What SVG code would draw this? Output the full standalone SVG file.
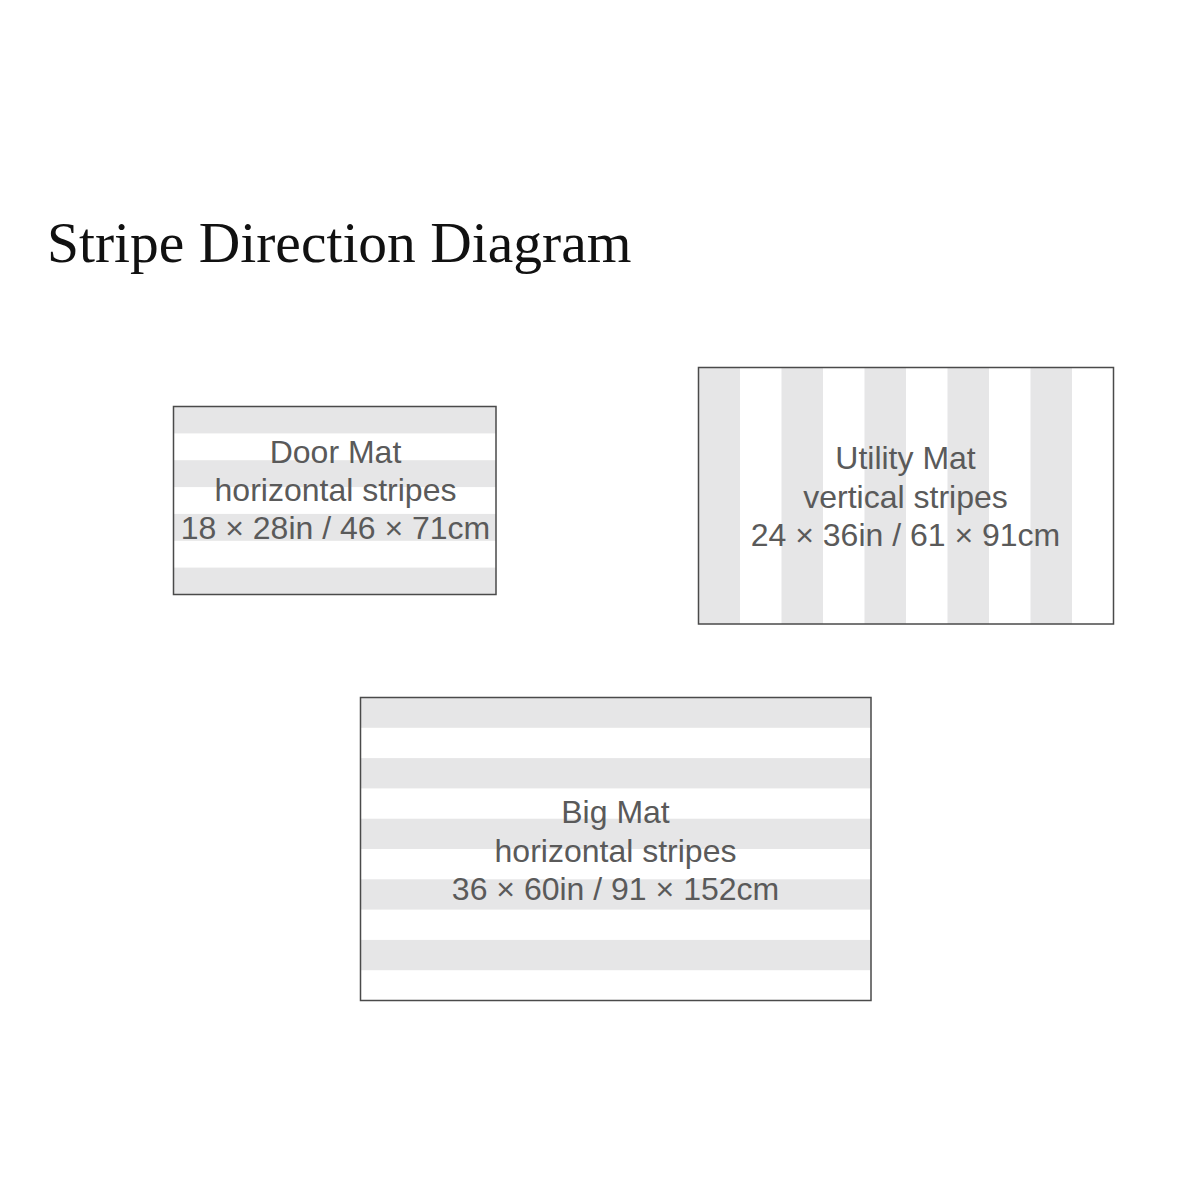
<svg xmlns="http://www.w3.org/2000/svg" width="1200" height="1200" viewBox="0 0 1200 1200">
<style>
.bg{fill:#ffffff}
.stripe{fill:#e6e6e7}
.frame{fill:none;stroke:#4a4a4a;stroke-width:1.5}
.title{font-family:"Liberation Serif","Times New Roman",serif;font-size:57.5px;fill:#111111}
.lbl{font-family:"Liberation Sans",Arial,Helvetica,sans-serif;font-size:32px;fill:#5a5a5a;text-anchor:middle}
</style>
<rect class="bg" x="0" y="0" width="1200" height="1200"/>
<text class="title" x="47" y="262">Stripe Direction Diagram</text>

<g id="door-mat">
<rect class="bg" x="173.5" y="406.5" width="322.5" height="188"/>
<rect class="stripe" x="173.5" y="406.5" width="322.5" height="26.9"/>
<rect class="stripe" x="173.5" y="460.2" width="322.5" height="26.9"/>
<rect class="stripe" x="173.5" y="513.9" width="322.5" height="26.9"/>
<rect class="stripe" x="173.5" y="567.6" width="322.5" height="26.9"/>
<rect class="frame" x="173.5" y="406.5" width="322.5" height="188"/>
<text class="lbl" x="335.5" y="463">Door Mat</text>
<text class="lbl" x="335.5" y="501">horizontal stripes</text>
<text class="lbl" x="335.5" y="539">18 × 28in / 46 × 71cm</text>
</g>

<g id="utility-mat">
<rect class="bg" x="698.5" y="367.5" width="415" height="256.5"/>
<rect class="stripe" x="698.5" y="367.5" width="41.5" height="256.5"/>
<rect class="stripe" x="781.5" y="367.5" width="41.5" height="256.5"/>
<rect class="stripe" x="864.5" y="367.5" width="41.5" height="256.5"/>
<rect class="stripe" x="947.5" y="367.5" width="41.5" height="256.5"/>
<rect class="stripe" x="1030.5" y="367.5" width="41.5" height="256.5"/>
<rect class="frame" x="698.5" y="367.5" width="415" height="256.5"/>
<text class="lbl" x="905.5" y="469">Utility Mat</text>
<text class="lbl" x="905.5" y="508">vertical stripes</text>
<text class="lbl" x="905.5" y="546">24 × 36in / 61 × 91cm</text>
</g>

<g id="big-mat">
<rect class="bg" x="360.5" y="697.5" width="510.5" height="303"/>
<rect class="stripe" x="360.5" y="697.5" width="510.5" height="30.3"/>
<rect class="stripe" x="360.5" y="758.1" width="510.5" height="30.3"/>
<rect class="stripe" x="360.5" y="818.7" width="510.5" height="30.3"/>
<rect class="stripe" x="360.5" y="879.3" width="510.5" height="30.3"/>
<rect class="stripe" x="360.5" y="939.9" width="510.5" height="30.3"/>
<rect class="frame" x="360.5" y="697.5" width="510.5" height="303"/>
<text class="lbl" x="615.5" y="823">Big Mat</text>
<text class="lbl" x="615.5" y="862">horizontal stripes</text>
<text class="lbl" x="615.5" y="900">36 × 60in / 91 × 152cm</text>
</g>

<g id="connectors"></g>
</svg>
